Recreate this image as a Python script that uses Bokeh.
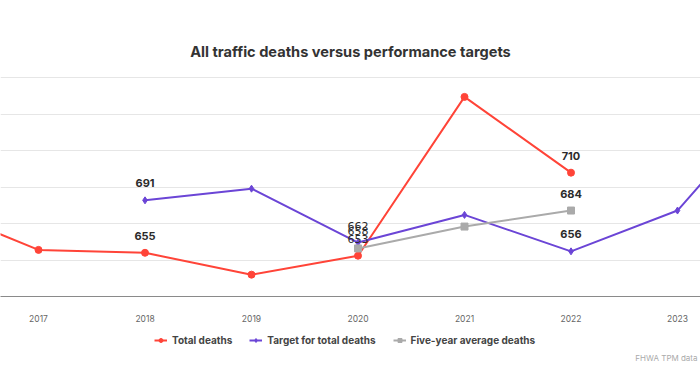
from bokeh.plotting import figure
from bokeh.layouts import column
from bokeh.models import (Range1d, FixedTicker, Legend, LegendItem, Label,
                          ColumnDataSource)
from bokeh.embed import file_html
from bokeh.resources import INLINE

# ---- data ----
total_years = [2016, 2017, 2018, 2019, 2020, 2021, 2022]
total_deaths = [687, 657, 655, 640, 653, 762, 710]

target_years = [2018, 2019, 2020, 2021, 2022, 2023, 2024]
target_deaths = [691, 699, 662, 681, 656, 684, 767]

avg_years = [2020, 2021, 2022]
avg_deaths = [658, 673, 684]

tick_years = [2016, 2017, 2018, 2019, 2020, 2021, 2022, 2023, 2024]
label_years = [2018, 2020, 2022]

series_names = ["Total deaths", "Target for total deaths", "Five-year average deaths"]

RED = "#ff4438"
PURPLE = "#6b45d6"
GREY = "#aaaaaa"
FONT = "Inter"
MARKERS = ["circle", "diamond", "square"]
COLORS = [RED, PURPLE, GREY]
SERIES = [(total_years, total_deaths), (target_years, target_deaths),
          (avg_years, avg_deaths)]

p = figure(width=700, height=326, output_backend="svg", toolbar_location=None,
           x_range=Range1d(2016.643, 2023.216), y_range=Range1d(625, 776),
           min_border_left=0, min_border_right=0, min_border_top=76,
           min_border_bottom=30)
p.outline_line_color = None
p.background_fill_color = "white"
p.border_fill_color = "white"

# title
p.title.text = "All traffic deaths versus performance targets"
p.title.align = "center"
p.title.text_font = FONT
p.title.text_font_size = "14.6px"
p.title.text_font_style = "bold"
p.title.text_color = "#333333"
p.title.standoff = 32

# axes & grid
p.yaxis.visible = False
p.ygrid.ticker = FixedTicker(ticks=[650, 675, 700, 725, 750, 775])
p.ygrid.grid_line_color = "#e6e6e6"
p.xgrid.grid_line_color = None
p.xaxis.ticker = FixedTicker(ticks=tick_years)
p.xaxis.axis_line_color = "#8a8a8a"
p.xaxis.major_tick_line_color = None
p.xaxis.minor_tick_line_color = None
p.xaxis.major_label_text_color = "#666666"
p.xaxis.major_label_text_font = FONT
p.xaxis.major_label_text_font_size = "8.5px"
p.xaxis.major_label_standoff = 12

# series
for (xs, ys), col, mk in zip(SERIES, COLORS, MARKERS):
    p.line(xs, ys, line_color=col, line_width=2)
    p.scatter(xs, ys, marker=mk, size=7, fill_color=col, line_color=col)

# data labels at every other year
lx, ly, lt, lf, ls = [], [], [], [], []
for yrs, vals in [(target_years, target_deaths), (avg_years, avg_deaths),
                  (total_years, total_deaths)]:
    for yr, v in zip(yrs, vals):
        if yr in label_years:
            lx.append(yr)
            ly.append(v)
            lt.append(str(v))
            crowded = yr == 2020
            lf.append("DejaVu Sans" if crowded else FONT)
            ls.append("normal" if crowded else "bold")
src = ColumnDataSource(dict(x=lx, y=ly, t=lt, f=lf, s=ls))
p.text(x="x", y="y", text="t", source=src, y_offset=-17,
       text_align="center", text_baseline="middle", text_font="f",
       text_font_style="s", text_font_size="11px", text_color="#2b2b2b")

# ---- legend strip below (its own renderers lie outside its view) ----
q = figure(width=700, height=47, output_backend="svg", toolbar_location=None,
           x_range=Range1d(0, 700), y_range=Range1d(0, 47),
           min_border=0, x_axis_type=None, y_axis_type=None)
q.outline_line_color = None
q.grid.visible = False
q.border_fill_color = "white"

items = []
for name, (xs, ys), col, mk in zip(series_names, SERIES, COLORS, MARKERS):
    rl = q.line(xs, ys, line_color=col, line_width=2)
    rm = q.scatter(xs, ys, marker=mk, size=7, fill_color=col, line_color=col)
    items.append(LegendItem(label=name, renderers=[rl, rm]))

legend = Legend(items=items, orientation="horizontal", location=(154, 27),
                label_text_font=FONT, label_text_font_size="10px",
                label_text_font_style="bold", label_text_color="#444444",
                glyph_width=13, glyph_height=10, label_height=12,
                label_standoff=5, spacing=17, border_line_color=None,
                background_fill_alpha=0, padding=0, margin=0)
q.add_layout(legend, "center")

q.add_layout(Label(x=697, y=16, x_units="screen", y_units="screen",
                   text="FHWA TPM data", text_font=FONT,
                   text_font_size="8px", text_color="#aaaaaa",
                   text_baseline="middle", text_align="right"))

layout = column(p, q, spacing=0)
open("out.html", "w").write(file_html(layout, INLINE))
